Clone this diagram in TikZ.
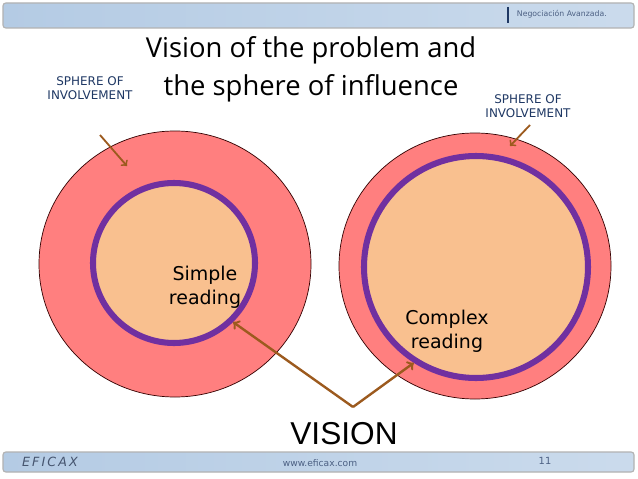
\documentclass[tikz,border=0pt]{standalone}
\usepackage{fontspec}
\setmainfont{DejaVu Sans}
\newfontfamily\titlefont{Open Sans}
\newfontfamily\bigfont{Liberation Sans}
\usetikzlibrary{shapes,arrows,positioning,calc}
\definecolor{salmon}{HTML}{FF7F7F}
\definecolor{peach}{HTML}{F9C08F}
\definecolor{ring}{HTML}{7030A0}
\definecolor{rust}{HTML}{9C5A1E}
\definecolor{navy}{HTML}{1F3864}
\definecolor{barblue}{HTML}{B4CBE4}
\newcommand{\px}{0.025cm}
\tikzset{
  outer/.style = {ellipse, draw=black!80!red, line width=0.5pt, fill=salmon},
  inner/.style = {ellipse, draw=ring, line width=4.3pt, fill=peach},
  pointer/.style = {->, >=to, draw=rust, line width=1.7pt},
  sphere/.style = {text=navy, font=\fontsize{8.5}{10}\selectfont, align=center},
  reading/.style = {font=\fontsize{13.5}{17}\selectfont, align=center},
  bar/.style = {rounded corners=2pt, draw=gray!60, line width=0.8pt,
                left color=barblue, right color=barblue!70!white}
}

\begin{document}
\begin{tikzpicture}[x=\px, y=-\px]
  \useasboundingbox (0,0) rectangle (638,479);
  \fill[white] (0,0) rectangle (638,479);
  \draw[bar] (3,3) rectangle (634,28);
  \draw[navy, line width=1pt] (508,7) -- (508,23);
  \node[anchor=west, text=navy!80, font=\fontsize{5.5}{6}\selectfont] (H) at (512,14) {Negociación Avanzada.};
  \draw[bar] (3,452) rectangle (634,472);
  \node[text=gray!40!navy, font=\fontsize{9}{10}\itshape] (E) at (50,462) {E\,F\,I\,C\,A\,X};
  \node[text=navy!80, font=\fontsize{6.5}{7}\selectfont] (W) at (320,463) {www.eficax.com};
  \node[text=navy!80, font=\fontsize{7}{8}\selectfont] (N) at (545,461) {11};
  \node[font=\fontsize{19.5}{27}\titlefont, align=center] (T) at (311,69)
    {Vision of the problem and\\the sphere of influence};
  \node[outer, minimum width=272*\px, minimum height=266*\px] (L) at (175,264) {};
  \node[inner, minimum width=162*\px, minimum height=160*\px] (Li) at (174,263) {};
  \node[outer, minimum width=272*\px, minimum height=266*\px] (R) at (475,266) {};
  \node[inner, minimum width=224*\px, minimum height=222*\px] (Ri) at (476,267) {};
  \node[reading] (S) at (205,287) {Simple\\reading};
  \node[reading] (C) at (447,331) {Complex\\reading};
  \node[font=\fontsize{22.5}{25}\bigfont] (V) at (344,434) {VISION};
  \coordinate (A) at (353,407);
  \draw[pointer] (A) -- (Li.-45);
  \draw[pointer] (A) -- (Ri.-123);
  \node[sphere] (P) at (90,88) {SPHERE OF\\INVOLVEMENT};
  \node[sphere] (Q) at (528,106) {SPHERE OF\\INVOLVEMENT};
  \coordinate (P0) at (100,135);
  \coordinate (P1) at (127,166);
  \coordinate (Q0) at (530,125);
  \coordinate (Q1) at (510,146);
  \draw[pointer, line width=1.3pt] (P0) -- (P1);
  \draw[pointer, line width=1.3pt] (Q0) -- (Q1);
\end{tikzpicture}
\end{document}
